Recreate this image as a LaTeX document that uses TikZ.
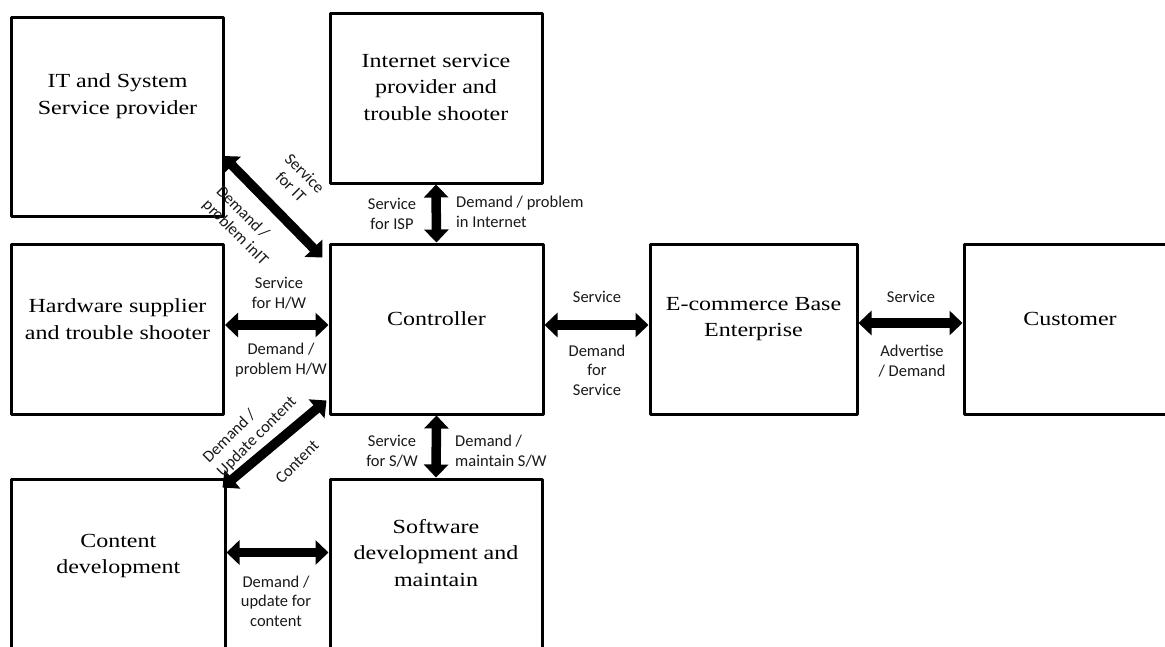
\documentclass[tikz,border=0pt]{standalone}
\usepackage{fontspec}
\setmainfont{Liberation Serif}[FakeStretch=1.2]
\newfontfamily\lblfont{Carlito}
\usetikzlibrary{arrows.meta,calc}
\begin{document}
\begin{tikzpicture}[x=1pt,y=-1pt,
  box/.style={draw, line width=3pt, line join=round, inner sep=0pt},
  boxtxt/.style={align=center, inner sep=0pt, font=\fontsize{20}{26.5}\selectfont},
  lbl/.style={font=\lblfont\fontsize{16.5}{19.5}\selectfont, align=center, inner sep=0pt, text=black!90},
  dbl/.style={line width=9.5pt, {Triangle[width=24pt,length=13pt]}-{Triangle[width=24pt,length=13pt]}}
]
\useasboundingbox (0,0) rectangle (1165,646);
\clip (0,0) rectangle (1165,646);
\fill[white] (0,0) rectangle (1165,646);

% boxes
\node[box, minimum width=212pt, minimum height=199pt,
  label={[boxtxt, yshift=21pt]center:{IT and System\\Service provider}}] (it) at (117.5,117) {};
\node[box, minimum width=212pt, minimum height=170pt,
  label={[boxtxt, yshift=11pt]center:{Internet service\\provider and\\trouble shooter}}] (inet) at (436,98) {};
\node[box, minimum width=212pt, minimum height=170pt,
  label={[boxtxt, yshift=10pt]center:{Hardware supplier\\and trouble shooter}}] (hw) at (117.5,329) {};
\node[box, minimum width=213pt, minimum height=170pt,
  label={[boxtxt, yshift=10pt]center:{Controller}}] (ctrl) at (436.5,329) {};
\node[box, minimum width=207pt, minimum height=170pt,
  label={[boxtxt, yshift=10pt]center:{E-commerce Base\\Enterprise}}] (ec) at (753.5,329) {};
\node[box, minimum width=212pt, minimum height=170pt,
  label={[boxtxt, yshift=10pt]center:{Customer}}] (cust) at (1070,329) {};
\node[box, minimum width=213.5pt, minimum height=181pt,
  label={[boxtxt, yshift=13.5pt]center:{Content\\development}}] (content) at (118.25,569.5) {};
\node[box, minimum width=212pt, minimum height=181pt,
  label={[boxtxt, yshift=16.5pt]center:{Software\\development and\\maintain}}] (sw) at (436,569.5) {};

% connectors
\draw[dbl] ($(it.south east)+(-2,-62)$) -- ($(ctrl.north west)+(-6,15)$);
\draw[dbl] (inet.south) -- (ctrl.north);
\draw[dbl] ($(hw.east)+(0,-4)$) -- ($(hw.east -| ctrl.west)+(0,-4)$);
\draw[dbl] ($(ctrl.east)+(0,-4)$) -- ($(ctrl.east -| ec.west)+(0,-4)$);
\draw[dbl] ($(ec.east)+(0,-6)$) -- ($(ec.east -| cust.west)+(0,-6)$);
\draw[dbl] ($(ctrl.south west)+(-2,-15)$) -- ($(content.north east)+(-4,10)$);
\draw[dbl] (ctrl.south) -- (sw.north);
\draw[dbl] ($(content.north east)+(0,75)$) -- ($(content.north east -| sw.west)+(0,75)$);

% connector labels
\node[lbl, rotate=-45] (lsit) at (298,180) {Service\\for IT};
\node[lbl, rotate=-45, align=left] (ldit) at (242,226) {Demand /\\problem inIT};
\node[lbl] (lsisp) at (392,214) {Service\\for ISP};
\node[lbl, anchor=west, align=left] (ldisp) at (456,212) {Demand / problem\\in Internet};
\node[lbl] (lshw) at (279,293) {Service\\for H/W};
\node[lbl] (ldhw) at (281,360) {Demand /\\problem H/W};
\node[lbl] (lsec) at (597,297) {Service};
\node[lbl] (ldec) at (597,370) {Demand\\for\\Service};
\node[lbl] (lscu) at (911,297) {Service};
\node[lbl] (ldcu) at (912,361) {Advertise\\/ Demand};
\node[lbl, rotate=45, align=left] (ldcont) at (250,430) {Demand /\\Update content};
\node[lbl, rotate=45] (lcont) at (297,462) {Content};
\node[lbl] (lssw) at (392,451) {Service\\for S/W};
\node[lbl, anchor=west, align=left] (ldsw) at (455,451) {Demand /\\maintain S/W};
\node[lbl] (ldcs) at (276,601) {Demand /\\update for\\content};
\end{tikzpicture}
\end{document}
